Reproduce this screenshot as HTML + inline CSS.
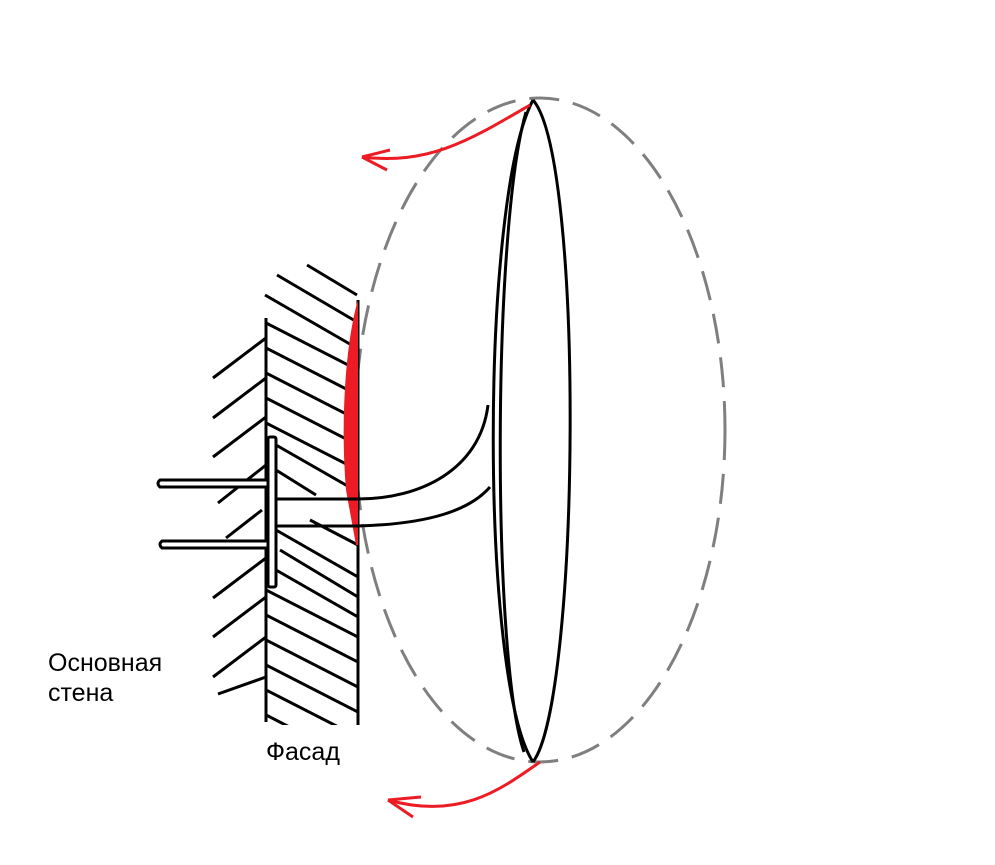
<!DOCTYPE html>
<html><head><meta charset="utf-8"><style>
body{margin:0;background:#fff;width:995px;height:865px;overflow:hidden}
svg{position:absolute;left:0;top:0}
.t{font-family:"Liberation Sans",sans-serif;font-size:25px;fill:#000}
</style></head><body>
<svg width="995" height="865" viewBox="0 0 995 865">
<defs><clipPath id="w"><polygon points="266,250 358,250 358,725 266,725"/></clipPath></defs>
<!-- dashed ellipse -->
<ellipse cx="540" cy="430" rx="185" ry="332" fill="none" stroke="#7f7f7f" stroke-width="3" stroke-dasharray="30,14"/>
<g stroke="#000" stroke-width="3" fill="none" stroke-linecap="butt">
<line x1="213" y1="378" x2="266" y2="338"/>
<line x1="213" y1="418" x2="266" y2="378"/>
<line x1="213" y1="457" x2="266" y2="417"/>
<line x1="218" y1="503" x2="266" y2="465"/>
<line x1="226" y1="538" x2="262" y2="510"/>
<line x1="213" y1="598" x2="266" y2="558"/>
<line x1="213" y1="637" x2="266" y2="597"/>
<line x1="213" y1="677" x2="266" y2="637"/>
<line x1="218" y1="694" x2="266" y2="677"/>
<line x1="307" y1="265" x2="357" y2="295"/>
<line x1="277" y1="275" x2="357" y2="322"/>
<line x1="265" y1="295" x2="355" y2="347"/>
<g clip-path="url(#w)">
<line x1="266" y1="323" x2="358" y2="370"/>
<line x1="266" y1="348" x2="358" y2="395"/>
<line x1="266" y1="373" x2="358" y2="420"/>
<line x1="266" y1="398" x2="358" y2="445"/>
<line x1="266" y1="423" x2="358" y2="470"/>
<line x1="276" y1="445" x2="358" y2="492"/>
<line x1="276" y1="470" x2="316" y2="495"/>
<line x1="276" y1="530" x2="358" y2="577"/>
<line x1="280" y1="550" x2="358" y2="597"/>
<line x1="276" y1="570" x2="358" y2="617"/>
<line x1="266" y1="590" x2="358" y2="637"/>
<line x1="266" y1="615" x2="358" y2="662"/>
<line x1="266" y1="640" x2="358" y2="687"/>
<line x1="266" y1="665" x2="358" y2="712"/>
<line x1="266" y1="690" x2="358" y2="737"/>
<line x1="266" y1="715" x2="358" y2="762"/>
<line x1="310" y1="520" x2="358" y2="545"/>
</g>
<line x1="266" y1="318" x2="266" y2="722"/>
<line x1="358" y1="300" x2="358" y2="725"/>
</g>
<path d="M358,300 C346,340 340,420 346,490 L356,545 L358,545 Z" fill="#ed1c24"/>
<g stroke="#000" stroke-width="3" fill="#fff">
<path d="M160,480 L275,480 L275,487 L160,487 Q156,483.5 160,480 Z"/>
<path d="M162,541 L275,541 L275,548 L162,548 Q158,544.5 162,541 Z"/>
<rect x="268" y="437" width="8" height="150" rx="2"/>
<path d="M276,499 L358,499 C420,499 480,470 488,405" fill="none"/>
<path d="M276,526 L358,526 C430,524 470,510 490,487" fill="none"/>
</g>
<g stroke="#000" stroke-width="3" fill="none">
<path d="M533,100 C585,160 580,700 533,762"/>
<path d="M533,100 C480,200 480,680 533,762"/>
<path d="M526,112 C492,230 492,660 524,752"/>
</g>
<g stroke="#ed1c24" stroke-width="3" fill="none">
<path d="M530,105 C470,140 430,165 362,157"/>
<path d="M362,157 L390,150 M362,157 L387,170"/>
<path d="M540,762 C500,790 460,820 388,800"/>
<path d="M388,800 L421,797 M388,800 L413,817"/>
</g>
<text class="t" x="48" y="671">Основная</text>
<text class="t" x="48" y="701">стена</text>
<text class="t" x="266" y="760">Фасад</text>
</svg>
</body></html>
